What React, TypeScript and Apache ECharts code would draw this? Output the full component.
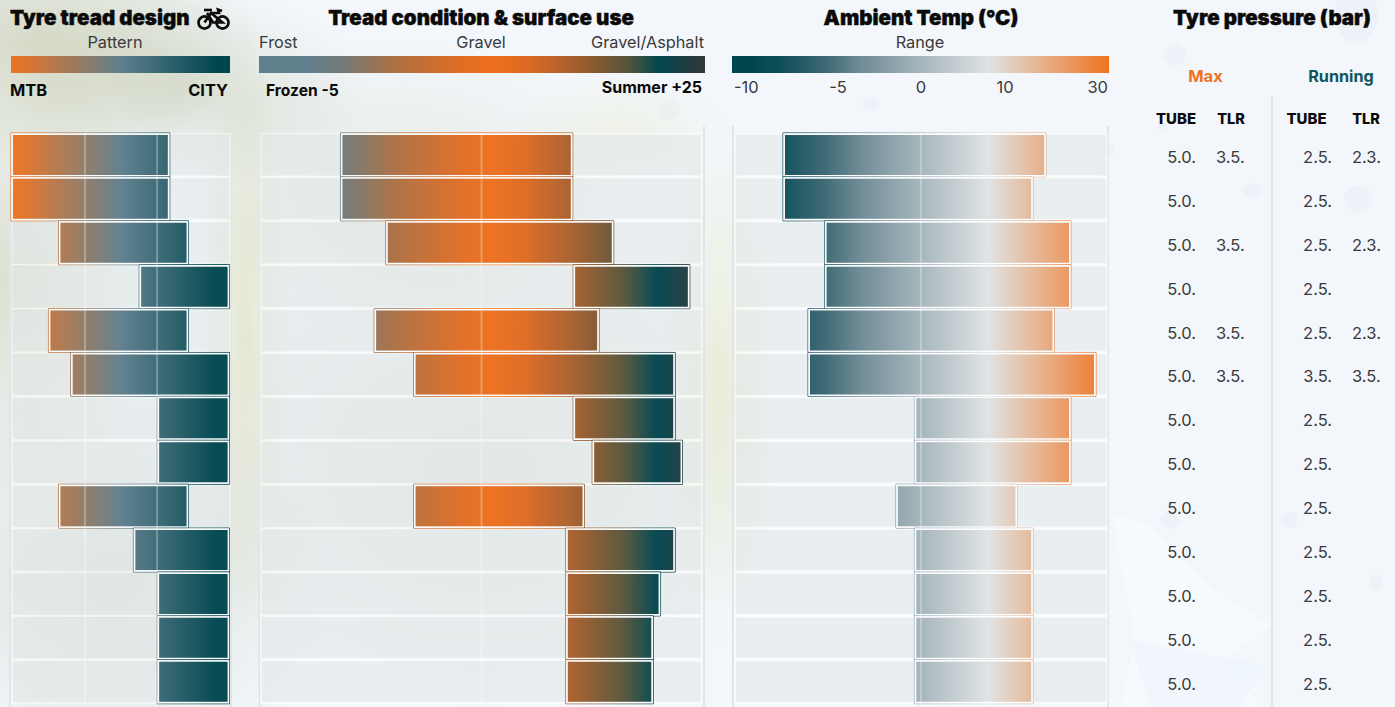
import React, { useEffect, useRef } from "react";
import * as echarts from "echarts";

const FONT = "Inter, 'Noto Sans', sans-serif";
const categories = ["1", "2", "3", "4", "5", "6", "7", "8", "9", "10", "11", "12", "13"];

const treadLow = [0, 0, 0.66, 1.78, 0.52, 0.83, 2.03, 2.03, 0.66, 1.7, 2.03, 2.03, 2.03];
const treadHigh = [2.15, 2.15, 2.41, 2.98, 2.41, 2.98, 2.98, 2.98, 2.41, 2.98, 2.98, 2.98, 2.98];

const surfaceLow = [0.5, 0.5, 3.6, 16.4, 2.8, 5.5, 16.4, 17.7, 5.5, 15.9, 15.9, 15.9, 15.9];
const surfaceHigh = [16.1, 16.1, 18.9, 24.1, 17.9, 23.1, 23.1, 23.6, 16.9, 23.1, 22.1, 21.6, 21.6];

const tempLow = [-4.7, -4.7, -0.2, -0.2, -2, -2, 9.5, 9.5, 7.5, 9.5, 9.5, 9.5, 9.5];
const tempHigh = [23.3, 21.9, 26, 26, 24.2, 28.7, 26, 26, 20.2, 21.9, 21.9, 21.9, 21.9];

const maxTube = ["5.0.", "5.0.", "5.0.", "5.0.", "5.0.", "5.0.", "5.0.", "5.0.", "5.0.", "5.0.", "5.0.", "5.0.", "5.0."];
const maxTlr = ["3.5.", "", "3.5.", "", "3.5.", "3.5.", "", "", "", "", "", "", ""];
const runTube = ["2.5.", "2.5.", "2.5.", "2.5.", "2.5.", "3.5.", "2.5.", "2.5.", "2.5.", "2.5.", "2.5.", "2.5.", "2.5."];
const runTlr = ["2.3.", "", "2.3.", "", "2.3.", "3.5.", "", "", "", "", "", "", ""];

const treadStops = [
  [0, "#f0731f"], [0.5, "#5f7f8d"], [0.94, "#00464f"], [1, "#00464f"],
];
const surfaceStops = [
  [0, "#5f7f8d"], [0.1, "#5f7f8d"], [0.18, "#6f7a7a"], [0.31, "#b06f40"], [0.45, "#e06d26"], [0.53, "#ee6f1c"],
  [0.6, "#dd6a22"], [0.706, "#a85f2e"], [0.752, "#8a5a30"], [0.827, "#55553b"], [0.897, "#00464f"], [1, "#333638"],
];
const tempStops = [
  [0, "#00464f"], [0.05, "#00464f"], [0.13, "#0f4e5a"], [0.24, "#3a6772"], [0.34, "#6f8b95"],
  [0.5, "#a5b5bb"], [0.68, "#dfe3e4"], [1, "#f0731f"],
];

const stops = (s: any[]) => s.map(([offset, color]) => ({ offset, color }));
const grad = (s: any[], x: number, x2: number) => ({
  type: "linear", x, y: 0, x2, y2: 0, global: true, colorStops: stops(s),
});
const hGrad = (s: any[]) => ({ type: "linear", x: 0, y: 0, x2: 1, y2: 0, colorStops: stops(s) });

const panels = [
  { low: treadLow, high: treadHigh, min: 0, max: 3, lines: [1, 2], stops: treadStops, left: 13, width: 216 },
  { low: surfaceLow, high: surfaceHigh, min: -5, max: 25, lines: [10], stops: surfaceStops, left: 262, width: 439 },
  { low: tempLow, high: tempHigh, min: -10, max: 30, lines: [10], stops: tempStops, left: 736, width: 370 },
];

const TOP = 133;
const BAND = 43.9;

function text(t: string, x: number, y: number, size: number, weight: number | string, color: string, align = "left", bold = 0) {
  return {
    type: "text", silent: true, z: 10,
    style: {
      text: t, x, y, fontFamily: FONT, fontSize: size, fontWeight: weight, fill: color, align, verticalAlign: "middle",
      ...(bold ? { stroke: color, lineWidth: bold } : {}),
    },
  };
}

// soft background patches: [x, y, rx, ry, color]
const foliage: any[] = [
  [40, 40, 220, 130, "rgba(150,155,85,0.32)"],
  [190, 90, 180, 100, "rgba(140,150,90,0.22)"],
  [20, 280, 130, 240, "rgba(160,165,100,0.30)"],
  [245, 330, 45, 300, "rgba(190,195,100,0.28)"],
  [110, 580, 230, 200, "rgba(150,155,110,0.24)"],
  [400, 190, 230, 150, "rgba(160,165,105,0.18)"],
  [480, 470, 300, 240, "rgba(155,160,115,0.18)"],
  [720, 380, 60, 270, "rgba(205,205,100,0.22)"],
  [620, 130, 110, 60, "rgba(210,210,120,0.16)"],
];
const bokeh: any[] = [
  [1356, 15, 22, 28], [1175, 55, 11, 11], [1253, 190, 11, 7], [1358, 199, 14, 13],
  [1108, 150, 6, 6], [1163, 127, 6, 4], [1100, 172, 6, 5], [870, 104, 8, 7],
  [670, 110, 10, 10], [1170, 520, 10, 9], [1290, 520, 8, 8], [1376, 582, 7, 8],
];

function background() {
  const items: any[] = [
    { type: "rect", silent: true, z: -10, shape: { x: 0, y: 0, width: 1395, height: 707 }, style: { fill: "#f3f7fc" } },
  ];
  foliage.forEach(([x, y, rx, ry, color]) => {
    items.push({
      type: "ellipse", silent: true, z: -9, shape: { cx: x, cy: y, rx, ry },
      style: {
        fill: { type: "radial", x: 0.5, y: 0.5, r: 0.5, colorStops: [{ offset: 0, color }, { offset: 1, color: color.replace(/[\d.]+\)$/, "0)") }] },
      },
    });
  });
  bokeh.forEach(([x, y, rx, ry]) => {
    items.push({ type: "ellipse", silent: true, z: -8, shape: { cx: x, cy: y, rx, ry }, style: { fill: "rgba(200,208,218,0.1)" } });
  });
  // pale petals, lower right
  items.push({
    type: "polygon", silent: true, z: -8,
    shape: { points: [[1112, 515], [1150, 525], [1215, 590], [1270, 625], [1225, 660], [1260, 707], [1120, 707], [1135, 640]] },
    style: { fill: "rgba(255,255,255,0.3)" },
  });
  items.push({
    type: "polygon", silent: true, z: -8,
    shape: { points: [[1130, 640], [1265, 665], [1240, 707], [1150, 707]] },
    style: { fill: "rgba(228,238,250,0.25)" },
  });
  return items;
}

function frames() {
  const mk = (x: number, y1: number) => ({
    type: "line", silent: true, z: 1, shape: { x1: x, y1, x2: x, y2: 707 },
    style: { stroke: "#dfe5e8", lineWidth: 2 },
  });
  return [mk(10, 126), mk(231, 126), mk(259.5, 126), mk(704, 126), mk(733, 126), mk(1108, 126), mk(1272, 96)];
}

function bike() {
  const st = { stroke: "#0b0b0b", lineWidth: 2.6, fill: "none" };
  return [
    { type: "circle", silent: true, z: 10, shape: { cx: 204.5, cy: 22.5, r: 6 }, style: st },
    { type: "circle", silent: true, z: 10, shape: { cx: 222.5, cy: 22.5, r: 6 }, style: st },
    { type: "polyline", silent: true, z: 10, shape: { points: [[204.5, 22.5], [211, 13], [222.5, 22.5], [213, 22.5], [207, 13]] }, style: st },
    { type: "polyline", silent: true, z: 10, shape: { points: [[211, 13], [219, 13], [218, 9.5], [222, 11]] }, style: st },
    { type: "line", silent: true, z: 10, shape: { x1: 204, y1: 10, x2: 212, y2: 10 }, style: st },
  ];
}

function legends() {
  const bar = (x: number, w: number, s: any[]) => ({
    type: "rect", silent: true, z: 5, shape: { x, y: 56, width: w, height: 17 }, style: { fill: hGrad(s) },
  });
  return [bar(11, 219, treadStops), bar(259, 446, surfaceStops), bar(732, 377, tempStops)];
}

function labels() {
  const dark = "#3a3a3a";
  const ink = "#0a0a0a";
  const list: any[] = [
    text("Tyre tread design", 10, 17, 20.5, 900, ink, "left", 0.4),
    text("Tread condition & surface use", 481, 17, 20.5, 900, ink, "center", 0.4),
    text("Ambient Temp (°C)", 921, 17, 20.5, 900, ink, "center", 0.4),
    text("Tyre pressure (bar)", 1272, 17, 20.5, 900, ink, "center", 0.4),
    text("Pattern", 115, 42, 16.3, 400, dark, "center"),
    text("Frost", 259, 42, 16.3, 400, dark),
    text("Gravel", 481, 42, 16.3, 400, dark, "center"),
    text("Gravel/Asphalt", 704, 42, 16.3, 400, dark, "right"),
    text("Range", 920, 42, 16.3, 400, dark, "center"),
    text("MTB", 10, 90, 16.4, 700, ink),
    text("CITY", 228, 90, 16.4, 700, ink, "right"),
    text("Frozen -5", 266, 90, 15.6, 700, ink),
    text("Summer +25", 702, 87, 16, 700, ink, "right"),
    text("-10", 734, 87, 16.5, 400, dark),
    text("-5", 838, 87, 16.5, 400, dark, "center"),
    text("0", 921, 87, 16.5, 400, dark, "center"),
    text("10", 1005, 87, 16.5, 400, dark, "center"),
    text("30", 1108, 87, 16.5, 400, dark, "right"),
    text("Max", 1205.5, 76, 16.5, 700, "#f0731f", "center"),
    text("Running", 1341, 76, 16.2, 700, "#0f5560", "center"),
    text("TUBE", 1176, 118, 15, 800, ink, "center"),
    text("TLR", 1231, 118, 14.5, 800, ink, "center"),
    text("TUBE", 1306.5, 118, 15, 800, ink, "center"),
    text("TLR", 1366, 118, 14.5, 800, ink, "center"),
  ];
  categories.forEach((_, i) => {
    const y = TOP + BAND / 2 + BAND * i + 2;
    list.push(text(maxTube[i], 1196, y, 16.5, 400, dark, "right"));
    if (maxTlr[i]) list.push(text(maxTlr[i], 1216, y, 16.5, 400, dark));
    list.push(text(runTube[i], 1332, y, 16.5, 400, dark, "right"));
    if (runTlr[i]) list.push(text(runTlr[i], 1352, y, 16.5, 400, dark));
  });
  return list;
}

function buildOption() {
  const grid: any[] = [];
  const xAxis: any[] = [];
  const yAxis: any[] = [];
  const series: any[] = [];
  panels.forEach((p, idx) => {
    grid.push({ left: p.left, width: p.width, top: TOP, height: BAND * categories.length });
    xAxis.push({ type: "value", gridIndex: idx, min: p.min, max: p.max, show: false });
    yAxis.push({ type: "category", gridIndex: idx, data: categories, inverse: true, show: false });
    const base = { type: "custom", coordinateSystem: "cartesian2d", xAxisIndex: idx, yAxisIndex: idx, silent: true };
    series.push({
      ...base, z: 2,
      data: categories.map((_, i) => [p.min, p.max, i]),
      encode: { x: [0, 1], y: 2 },
      renderItem: (_: any, api: any) => {
        const a = api.coord([api.value(0), api.value(2)]);
        const b = api.coord([api.value(1), api.value(2)]);
        return {
          type: "group",
          children: [
            { type: "rect", shape: { x: a[0], y: a[1] - 20, width: b[0] - a[0], height: 40 }, style: { fill: "rgba(226,232,233,0.62)" } },
            { type: "rect", shape: { x: a[0] - 1, y: a[1] - 21.5, width: b[0] - a[0] + 2, height: 43 }, style: { fill: "none", stroke: "rgba(255,255,255,0.5)", lineWidth: 1.5 } },
          ],
        };
      },
    });
    series.push({
      ...base, z: 3,
      data: categories.map((_, i) => [p.low[i], p.high[i], i]),
      encode: { x: [0, 1], y: 2 },
      renderItem: (_: any, api: any) => {
        const a = api.coord([api.value(0), api.value(2)]);
        const b = api.coord([api.value(1), api.value(2)]);
        const g0 = api.coord([p.min, api.value(2)])[0];
        const g1 = api.coord([p.max, api.value(2)])[0];
        const fill = grad(p.stops, g0, g1);
        const w = b[0] - a[0];
        return {
          type: "group",
          children: [
            { type: "rect", shape: { x: a[0] - 2, y: a[1] - 22, width: w + 4, height: 44 }, style: { fill: "none", stroke: fill, lineWidth: 1 } },
            { type: "rect", shape: { x: a[0] - 1, y: a[1] - 21, width: w + 2, height: 42 }, style: { fill: "none", stroke: "rgba(255,255,255,0.85)", lineWidth: 1.5 } },
            { type: "rect", shape: { x: a[0], y: a[1] - 20, width: w, height: 40 }, style: { fill, opacity: 0.97 } },
          ],
        };
      },
    });
    series.push({
      ...base, z: 4,
      data: p.lines.map((v) => [v]),
      encode: { x: 0 },
      renderItem: (params: any, api: any) => {
        const x = api.coord([api.value(0), 0])[0];
        const cs = params.coordSys;
        return {
          type: "line",
          shape: { x1: x, y1: cs.y, x2: x, y2: cs.y + cs.height },
          style: { stroke: "rgba(255,255,255,0.28)", lineWidth: 2 },
        };
      },
    });
  });
  return {
    animation: false,
    grid, xAxis, yAxis, series,
    graphic: { elements: [...background(), ...frames(), ...legends(), ...bike(), ...labels()] },
  };
}

export default function App() {
  const ref = useRef<HTMLDivElement>(null);
  useEffect(() => {
    document.body.style.margin = "0";
    document.body.style.overflow = "hidden";
    const chart = echarts.init(ref.current!, undefined, { renderer: "svg" });
    chart.setOption(buildOption() as any);
    return () => chart.dispose();
  }, []);
  return <div ref={ref} style={{ position: "absolute", left: 0, top: 0, width: 1395, height: 707 }} />;
}
